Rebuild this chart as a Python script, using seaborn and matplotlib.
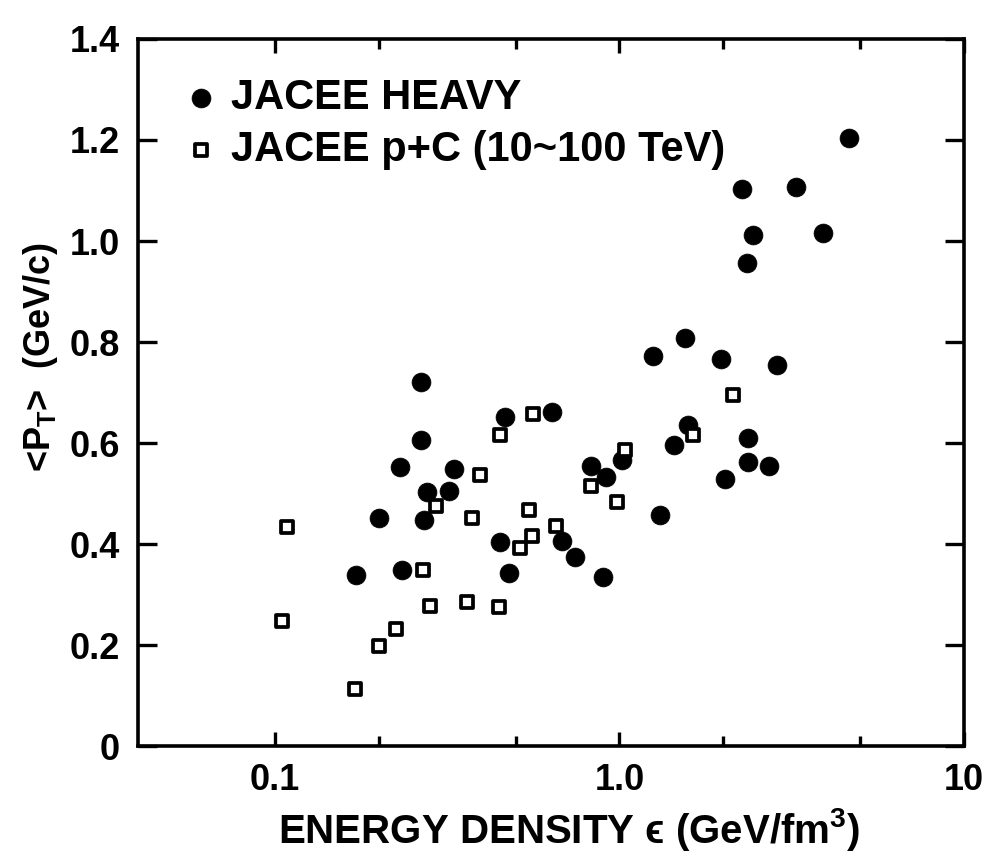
import matplotlib
matplotlib.use("Agg")
import matplotlib.pyplot as plt
import seaborn as sns
import pandas as pd
from matplotlib.ticker import FixedLocator, NullFormatter

# ---- data ----
heavy_x = [0.265, 0.265, 0.231, 0.330, 0.276, 0.321, 0.201, 0.271, 0.172, 0.234,
           0.450, 0.478, 0.465, 0.639, 0.826, 0.912, 1.02, 0.682, 0.743, 0.894,
           1.31, 1.546, 1.25, 1.973, 2.87, 1.577, 1.437, 2.37, 2.37, 2.71,
           2.03, 4.65, 2.27, 3.26, 2.45, 3.89, 2.34]
heavy_y = [0.72, 0.605, 0.553, 0.549, 0.503, 0.504, 0.451, 0.448, 0.338, 0.348,
           0.404, 0.343, 0.651, 0.661, 0.554, 0.533, 0.566, 0.405, 0.374, 0.334,
           0.457, 0.807, 0.772, 0.766, 0.754, 0.636, 0.597, 0.609, 0.562, 0.555,
           0.529, 1.204, 1.102, 1.106, 1.012, 1.015, 0.956]

pc_x = [0.108, 0.105, 0.171, 0.201, 0.225, 0.269, 0.293, 0.394, 0.374, 0.282,
        0.362, 0.447, 0.450, 0.563, 0.548, 0.559, 0.514, 0.656, 0.826, 1.04,
        0.987, 1.64, 2.14]
pc_y = [0.433, 0.248, 0.113, 0.199, 0.231, 0.349, 0.476, 0.537, 0.452, 0.278,
        0.286, 0.276, 0.615, 0.658, 0.467, 0.415, 0.393, 0.436, 0.515, 0.587,
        0.484, 0.616, 0.695]

series_labels = ["JACEE HEAVY", "JACEE p+C (10~100 TeV)"]
x_major = [0.1, 1.0, 10]
x_major_labels = ["0.1", "1.0", "10"]
x_minor = [0.2, 0.5, 2, 5]
y_ticks = [0, 0.2, 0.4, 0.6, 0.8, 1.0, 1.2, 1.4]
y_tick_labels = ["0", "0.2", "0.4", "0.6", "0.8", "1.0", "1.2", "1.4"]

# ---- style ----
sns.set_style("ticks")
plt.rcParams["font.family"] = ["Liberation Sans", "DejaVu Sans"]
plt.rcParams["font.weight"] = "bold"
plt.rcParams["axes.labelweight"] = "bold"
plt.rcParams["text.color"] = "black"
plt.rcParams["axes.labelcolor"] = "black"
plt.rcParams["xtick.color"] = "black"
plt.rcParams["ytick.color"] = "black"
plt.rcParams["axes.edgecolor"] = "black"
plt.rcParams["mathtext.fontset"] = "custom"
plt.rcParams["mathtext.rm"] = "Liberation Sans:bold"
plt.rcParams["mathtext.bf"] = "Liberation Sans:bold"
plt.rcParams["mathtext.it"] = "Liberation Sans:bold"
plt.rcParams["mathtext.default"] = "bf"

df_h = pd.DataFrame({"x": heavy_x, "y": heavy_y})
df_p = pd.DataFrame({"x": pc_x, "y": pc_y})

fig = plt.figure(figsize=(9.89, 8.57), dpi=100)
ax = fig.add_axes([0.1395, 0.1295, 0.835, 0.825])

sns.scatterplot(data=df_h, x="x", y="y", ax=ax, marker="o", s=185,
                color="black", edgecolor="black", linewidth=0.5,
                label=series_labels[0], zorder=3)
sns.scatterplot(data=df_p, x="x", y="y", ax=ax, marker="s", s=85,
                facecolor="white", edgecolor="black", linewidth=2.7,
                label=series_labels[1], zorder=4)

ax.set_xscale("log")
ax.set_xlim(0.04, 10)
ax.set_ylim(0, 1.4)

ax.xaxis.set_major_locator(FixedLocator(x_major))
ax.set_xticklabels(x_major_labels)
ax.xaxis.set_minor_locator(FixedLocator(x_minor))
ax.xaxis.set_minor_formatter(NullFormatter())
ax.set_yticks(y_ticks)
ax.set_yticklabels(y_tick_labels)

for sp in ax.spines.values():
    sp.set_linewidth(2.6)
    sp.set_color("black")
    sp.set_visible(True)

ax.tick_params(axis="y", which="major", direction="in", length=14, width=2.4,
               left=True, right=True, labelsize=26, pad=13, colors="black")
ax.tick_params(axis="x", which="major", direction="in", length=10, width=2.4,
               top=True, bottom=True, labelsize=26, pad=12, colors="black")
ax.tick_params(axis="x", which="minor", direction="in", length=7, width=2.4,
               top=True, bottom=True, colors="black")

ax.set_xlabel("ENERGY DENSITY ϵ (GeV/fm$^{3}$)", fontsize=29, labelpad=5,
              fontweight="bold", color="black")
ax.xaxis.set_label_coords(0.522, -0.085)
ax.set_ylabel("<P$_{T}$>  (GeV/c)", fontsize=26, fontweight="bold",
              color="black")
ax.yaxis.set_label_coords(-0.094, 0.55)

leg = ax.legend(loc="upper left", bbox_to_anchor=(0.051, 0.945), frameon=False,
                fontsize=30, handlelength=1.0, handletextpad=0.22,
                labelspacing=0.3, borderpad=0, borderaxespad=0)
for t in leg.get_texts():
    t.set_fontweight("bold")
    t.set_color("black")

fig.savefig("out.png", dpi=100, facecolor="white")
